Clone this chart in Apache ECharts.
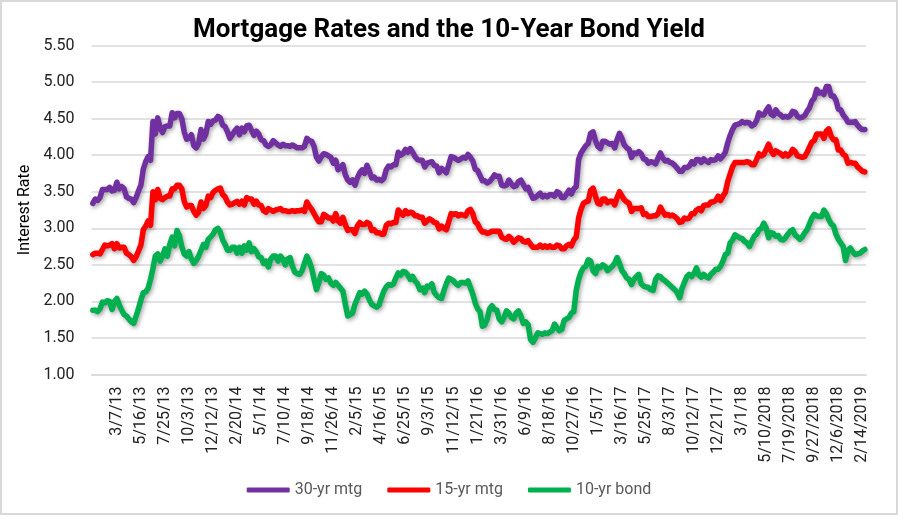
<!DOCTYPE html>
<html>
<head>
<meta charset="utf-8">
<script src="https://cdn.jsdelivr.net/npm/echarts/dist/echarts.min.js"></script>
<style>
html,body{margin:0;padding:0;background:#fff;}
#wrap{position:relative;width:898px;height:517px;overflow:hidden;}
#chart{position:absolute;left:0;top:0;width:898px;height:517px;}
#frame{position:absolute;left:0;top:0;width:894px;height:511px;border:2px solid #d9d9d9;pointer-events:none;}
</style>
</head>
<body>
<div id="wrap"><div id="chart"></div><div id="frame"></div></div>
<script>
// Tick labels shown on the category axis (every 10th week, starting at week index 10)
const tickLabels = ['3/7/13','5/16/13','7/25/13','10/3/13','12/12/13','2/20/14','5/1/14','7/10/14','9/18/14','11/26/14',
  '2/5/15','4/16/15','6/25/15','9/3/15','11/12/15','1/21/16','3/31/16','6/9/16','8/18/16','10/27/16',
  '1/5/17','3/16/17','5/25/17','8/3/17','10/12/17','12/21/17','3/1/18','5/10/2018','7/19/2018','9/27/2018',
  '12/6/2018','2/14/2019'];

const mtg30 = [
3.34,3.40,3.38,3.42,3.53,3.53,3.53,3.56,3.51,3.52,
3.63,3.54,3.57,3.54,3.43,3.41,3.40,3.35,3.42,3.51,
3.59,3.81,3.91,3.98,3.93,4.46,4.29,4.51,4.37,4.31,
4.39,4.40,4.40,4.58,4.51,4.57,4.57,4.50,4.32,4.22,
4.23,4.28,4.13,4.10,4.16,4.35,4.22,4.29,4.46,4.42,
4.47,4.48,4.53,4.51,4.41,4.39,4.32,4.23,4.28,4.33,
4.37,4.28,4.37,4.32,4.40,4.41,4.34,4.27,4.33,4.29,
4.21,4.20,4.14,4.12,4.14,4.20,4.17,4.14,4.12,4.15,
4.13,4.13,4.12,4.14,4.12,4.10,4.10,4.10,4.12,4.23,
4.20,4.19,4.12,3.97,3.92,3.98,4.02,4.01,3.99,3.97,
3.89,3.93,3.80,3.83,3.87,3.73,3.66,3.63,3.66,3.59,
3.69,3.76,3.80,3.75,3.86,3.78,3.69,3.70,3.66,3.67,
3.65,3.68,3.80,3.85,3.84,3.87,3.87,4.04,4.00,4.02,
4.08,4.04,4.09,4.04,3.98,3.94,3.93,3.93,3.84,3.89,
3.90,3.91,3.86,3.85,3.76,3.82,3.79,3.76,3.87,3.98,
3.97,3.95,3.93,3.95,3.97,3.96,4.01,3.97,3.92,3.81,
3.79,3.72,3.65,3.65,3.62,3.64,3.68,3.73,3.71,3.71,
3.59,3.58,3.59,3.66,3.61,3.57,3.58,3.64,3.66,3.60,
3.54,3.56,3.48,3.41,3.42,3.45,3.48,3.43,3.45,3.43,
3.46,3.46,3.44,3.50,3.48,3.42,3.42,3.47,3.52,3.47,
3.54,3.57,3.94,4.03,4.08,4.13,4.16,4.30,4.32,4.20,
4.12,4.09,4.19,4.19,4.17,4.15,4.16,4.10,4.21,4.30,
4.23,4.14,4.10,4.08,3.97,4.03,4.02,4.05,4.02,3.95,
3.94,3.89,3.91,3.90,3.88,3.96,4.03,3.96,3.92,3.93,
3.90,3.89,3.86,3.82,3.78,3.78,3.83,3.83,3.85,3.91,
3.88,3.94,3.94,3.90,3.95,3.92,3.90,3.94,3.93,3.94,
3.99,3.95,3.99,4.04,4.17,4.27,4.35,4.41,4.42,4.43,
4.46,4.44,4.45,4.44,4.40,4.42,4.47,4.58,4.55,4.55,
4.61,4.66,4.56,4.54,4.62,4.57,4.55,4.52,4.53,4.52,
4.54,4.60,4.59,4.53,4.51,4.52,4.54,4.60,4.65,4.74,
4.78,4.90,4.85,4.86,4.83,4.94,4.94,4.81,4.81,4.75,
4.63,4.62,4.55,4.51,4.45,4.45,4.45,4.46,4.41,4.37,
4.35,4.35];

const mtg15 = [
2.64,2.66,2.66,2.65,2.71,2.77,2.76,2.77,2.79,2.72,
2.79,2.73,2.74,2.74,2.66,2.64,2.61,2.56,2.61,2.69,
2.77,2.98,3.03,3.10,3.04,3.50,3.39,3.53,3.41,3.39,
3.42,3.44,3.44,3.54,3.54,3.59,3.59,3.54,3.37,3.29,
3.31,3.31,3.23,3.18,3.22,3.36,3.27,3.31,3.44,3.42,
3.49,3.52,3.54,3.55,3.46,3.43,3.36,3.32,3.33,3.35,
3.37,3.33,3.37,3.32,3.42,3.40,3.40,3.33,3.37,3.32,
3.31,3.24,3.22,3.27,3.25,3.23,3.25,3.26,3.27,3.24,
3.24,3.23,3.23,3.24,3.23,3.24,3.24,3.25,3.23,3.36,
3.30,3.26,3.20,3.14,3.09,3.09,3.19,3.17,3.14,3.14,
3.10,3.20,3.10,3.07,3.15,3.05,2.97,2.98,2.98,2.93,
3.03,3.08,3.05,3.05,3.08,3.06,2.97,2.98,2.94,2.94,
2.92,2.92,3.04,3.07,3.06,3.08,3.08,3.25,3.21,3.18,
3.24,3.20,3.22,3.21,3.17,3.17,3.15,3.15,3.07,3.10,
3.13,3.11,3.08,3.07,2.99,3.03,3.00,2.98,3.09,3.20,
3.19,3.20,3.17,3.19,3.18,3.17,3.24,3.26,3.20,3.09,
3.06,2.99,2.95,2.95,2.93,2.94,2.96,2.96,2.96,2.96,
2.88,2.86,2.85,2.89,2.86,2.81,2.84,2.87,2.86,2.82,
2.81,2.83,2.78,2.74,2.74,2.74,2.77,2.74,2.76,2.74,
2.76,2.74,2.74,2.77,2.76,2.72,2.72,2.76,2.78,2.76,
2.84,2.88,3.14,3.26,3.34,3.36,3.37,3.52,3.55,3.44,
3.34,3.33,3.40,3.40,3.35,3.37,3.37,3.32,3.42,3.50,
3.44,3.39,3.36,3.34,3.23,3.27,3.27,3.27,3.28,3.19,
3.20,3.16,3.16,3.17,3.17,3.20,3.29,3.23,3.18,3.19,
3.17,3.18,3.16,3.13,3.08,3.09,3.14,3.13,3.14,3.20,
3.20,3.25,3.27,3.24,3.31,3.32,3.32,3.36,3.36,3.38,
3.44,3.38,3.44,3.49,3.64,3.74,3.84,3.90,3.90,3.90,
3.90,3.90,3.91,3.90,3.87,3.87,3.94,4.02,3.99,4.01,
4.08,4.15,4.06,4.01,4.06,4.04,4.02,3.99,4.02,3.99,
4.02,4.08,4.05,3.99,3.98,3.97,3.98,4.04,4.11,4.18,
4.20,4.29,4.29,4.29,4.23,4.33,4.36,4.26,4.21,4.21,
4.07,4.07,4.01,3.99,3.89,3.90,3.89,3.89,3.84,3.81,
3.78,3.77];

const bond10 = [
1.88,1.88,1.86,1.90,1.99,1.98,2.01,2.00,1.89,2.00,
2.04,1.95,1.88,1.82,1.80,1.76,1.72,1.70,1.80,1.90,
2.02,2.12,2.13,2.18,2.30,2.45,2.62,2.65,2.55,2.62,
2.72,2.62,2.78,2.88,2.76,2.97,2.90,2.75,2.65,2.62,
2.68,2.58,2.52,2.56,2.62,2.70,2.78,2.74,2.85,2.88,
2.92,2.98,3.00,2.95,2.84,2.78,2.70,2.70,2.74,2.74,
2.66,2.74,2.66,2.76,2.70,2.80,2.68,2.72,2.68,2.61,
2.60,2.52,2.55,2.47,2.58,2.62,2.62,2.55,2.62,2.58,
2.50,2.58,2.60,2.48,2.40,2.38,2.37,2.42,2.52,2.62,
2.55,2.45,2.30,2.16,2.26,2.38,2.36,2.30,2.32,2.25,
2.22,2.26,2.22,2.18,2.14,1.96,1.80,1.82,1.84,1.96,
2.04,2.12,2.10,2.14,2.10,2.02,1.96,1.94,1.92,1.95,
2.05,2.14,2.20,2.23,2.22,2.24,2.32,2.39,2.36,2.41,
2.40,2.36,2.30,2.34,2.28,2.24,2.16,2.18,2.12,2.21,
2.20,2.24,2.12,2.08,2.05,2.04,2.15,2.24,2.32,2.30,
2.28,2.24,2.22,2.26,2.26,2.25,2.28,2.19,2.10,1.98,
1.90,1.86,1.66,1.68,1.76,1.90,1.94,1.89,1.88,1.76,
1.72,1.78,1.87,1.84,1.78,1.76,1.84,1.87,1.80,1.70,
1.72,1.68,1.48,1.44,1.50,1.57,1.56,1.55,1.57,1.56,
1.58,1.60,1.69,1.64,1.60,1.62,1.74,1.76,1.78,1.84,
1.86,2.15,2.30,2.40,2.46,2.48,2.57,2.55,2.42,2.38,
2.48,2.46,2.50,2.48,2.42,2.45,2.48,2.52,2.60,2.52,
2.42,2.38,2.32,2.30,2.23,2.30,2.34,2.37,2.24,2.21,
2.20,2.19,2.16,2.15,2.30,2.35,2.34,2.30,2.28,2.25,
2.22,2.19,2.16,2.12,2.05,2.18,2.26,2.34,2.37,2.34,
2.38,2.46,2.36,2.33,2.37,2.34,2.32,2.37,2.40,2.44,
2.44,2.48,2.55,2.64,2.66,2.80,2.84,2.91,2.89,2.87,
2.86,2.82,2.80,2.75,2.82,2.89,2.92,2.98,3.00,3.07,
3.00,2.87,2.94,2.93,2.89,2.90,2.85,2.84,2.87,2.92,
2.96,2.98,2.91,2.88,2.85,2.88,2.94,2.98,3.06,3.14,
3.19,3.17,3.16,3.16,3.25,3.20,3.12,3.06,3.03,2.92,
2.85,2.80,2.75,2.56,2.70,2.73,2.68,2.64,2.65,2.66,
2.69,2.71];

// Weekly category dates (one per data row)
const categories = [];
{
  const d0 = new Date(2012, 11, 27);
  for (let i = 0; i < mtg30.length; i++) {
    const d = new Date(d0.getTime() + i * 7 * 86400000 + 3600000);
    categories.push((d.getMonth() + 1) + '/' + d.getDate() + '/' + String(d.getFullYear()).slice(2));
  }
}

const FONT = 'Roboto';
const chart = echarts.init(document.getElementById('chart'), null, {renderer: 'canvas'});

function lineSeries(name, data, color) {
  return {
    name: name, type: 'line', data: data, showSymbol: false, symbol: 'none',
    color: color,
    lineStyle: {width: 5.5, color: color, cap: 'round', join: 'round',
      shadowColor: 'rgba(0,0,0,0.35)', shadowBlur: 4, shadowOffsetX: 1.5, shadowOffsetY: 2},
    emphasis: {disabled: true}
  };
}

chart.setOption({
  animation: false,
  title: {
    text: 'Mortgage Rates and the 10-Year Bond Yield',
    left: 'center', top: 12,
    textStyle: {fontFamily: FONT, fontWeight: 'bold', fontSize: 26, color: '#000'}
  },
  legend: {
    top: 477, left: 'center',
    itemWidth: 43, itemHeight: 5, itemGap: 25, icon: 'roundRect',
    textStyle: {fontFamily: FONT, fontSize: 16, color: '#595959'},
    data: ['30-yr mtg', '15-yr mtg', '10-yr bond']
  },
  grid: {left: 91.6, right: 32, top: 45.5, bottom: 142.5, containLabel: false},
  xAxis: {
    type: 'category', data: categories, boundaryGap: true,
    axisLine: {show: true, lineStyle: {color: '#d9d9d9', width: 1.5}},
    axisTick: {show: false},
    splitLine: {show: false},
    axisLabel: {
      rotate: 90, margin: 12, fontFamily: FONT, fontSize: 16, color: '#222',
      interval: function (i) { return i >= 10 && i % 10 === 0 && (i / 10 - 1) < tickLabels.length; },
      formatter: function (v, i) { return tickLabels[i / 10 - 1] || ''; }
    }
  },
  yAxis: {
    type: 'value', min: 1, max: 5.5, interval: 0.5,
    name: 'Interest Rate', nameLocation: 'middle', nameGap: 57,
    nameTextStyle: {fontFamily: FONT, fontSize: 16, color: '#000'},
    axisLine: {show: false}, axisTick: {show: false},
    axisLabel: {margin: 17, fontFamily: FONT, fontSize: 16, color: '#222',
      formatter: function (v) { return v.toFixed(2); }},
    splitLine: {lineStyle: {color: '#d9d9d9', width: 1.5}}
  },
  series: [
    lineSeries('30-yr mtg', mtg30, '#7030A0'),
    lineSeries('15-yr mtg', mtg15, '#FF0000'),
    lineSeries('10-yr bond', bond10, '#00B050')
  ]
});
</script>
</body>
</html>
